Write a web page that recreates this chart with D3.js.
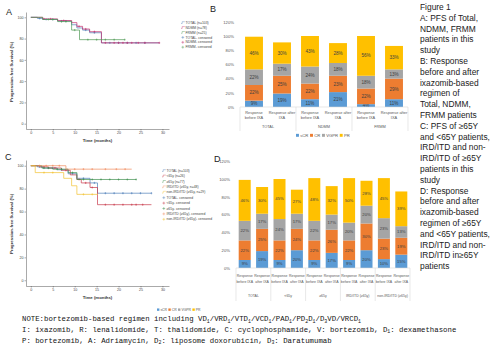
<!DOCTYPE html>
<html>
<head>
<meta charset="utf-8">
<script src="https://cdn.jsdelivr.net/npm/d3@7"></script>
<style>
  body { margin: 0; background: #fff; }
  svg { display: block; }
</style>
</head>
<body>
<div id="container"></div>
<script>
let w = 500;
let h = 353;

// ---------- DATA ----------
// KM axes
let kmTicksX = [0, 5, 10, 15, 20, 25, 30];
let kmTicksY = [0, 20, 40, 60, 80, 100];

// panel A: PFS of Total / NDMM / FRMM (time in months, survival in %)
let aTotalT = [0, 1.5, 2.7, 6.1, 9.3, 10.5, 11.8, 13.4, 16.1, 29.3];
let aTotalS = [100, 99, 98, 96.5, 93, 90, 88, 85.5, 76, 76];
let aTotalCens = [2, 3.5, 5, 7, 8, 12.5, 14.5, 18, 20, 22, 24, 26];
let aNdmmT = [0, 2.7, 6.1, 9.3, 10.5, 11.8, 13.4, 16.1, 29.3];
let aNdmmS = [100, 98.5, 97, 95, 91.5, 89, 86.5, 76, 76];
let aNdmmCens = [3, 4.5, 7.5, 11, 12.5, 14.5, 17, 19, 20, 21, 22, 23, 24.5, 26, 29.3];
let aFrmmT = [0, 2.7, 6.1, 9.3, 11.1, 21.4];
let aFrmmS = [100, 98, 96, 88, 79, 79];
let aFrmmCens = [4, 5, 7, 8, 10, 13, 15, 17, 19, 21.4];
let aLegend = ["TOTAL (n=103)", "NDMM (n=78)", "FRMM (n=25)", "TOTAL- censored", "NDMM- censored", "FRMM- censored"];

// panel C: PFS by age / regimen
let cTotalT = [0, 1.5, 2.7, 6, 8.5, 10.5, 13.5, 15.2, 27.5];
let cTotalS = [100, 99, 98, 96.5, 93, 89, 85, 76, 76];
let cTotalCens = [2, 4, 5, 7, 9.5, 12, 14.5, 17, 19, 21, 23, 25, 27.5];
let cYoungT = [0, 2, 4, 7, 9, 10.5, 11.5, 13.5, 15.2, 27.5];
let cYoungS = [100, 99, 98, 96, 92, 88, 85, 81, 66, 66];
let cYoungCens = [3, 5.5, 8, 11, 12.5, 14, 17, 19, 21, 23, 24, 25.5];
let cOldT = [0, 2.5, 5, 8.5, 10.5, 24];
let cOldS = [100, 98, 97, 94, 88, 88];
let cOldCens = [3, 4, 6, 7, 9.5, 12, 14, 16, 18, 20, 22, 24];
let cIrdT = [0, 8, 23];
let cIrdS = [100, 97, 97];
let cIrdCens = [2, 3.5, 5, 6.5, 10, 12, 14, 17, 19.5, 21.5];
let cNonIrdT = [0, 1, 7.5, 9.3, 10.5, 15.3];
let cNonIrdS = [100, 94, 89, 82.5, 75, 75];
let cNonIrdCens = [3, 5, 12, 14];
let cLegend = ["TOTAL (n=103)", "<65y (n=26)", "\u226565y (n=77)", "IRD/ITD (\u226565y, n=48)", "non-IRD/ITD (\u226565y, n=29)",
  "TOTAL- censored", "<65y- censored", "\u226565y- censored", "IRD/ITD (\u226565y)- censored", "non-IRD/ITD (\u226565y)- censored"];

// response categories
let responseKeys = ["sCR", "CR", "VGPR", "PR"];
let yTicksPct = [0, 0.2, 0.4, 0.6, 0.8, 1.0, 1.2];

// panel B
let bGroups = ["TOTAL", "NDMM", "FRMM"];
let bPhases = [["Response", "before IXA"], ["Response after", "IXA"]];
let bSCR = [9, 19, 11, 21, 4, 11];
let bCR = [22, 25, 22, 23, 22, 29];
let bVGPR = [22, 17, 24, 18, 18, 13];
let bPR = [46, 30, 43, 28, 56, 33];

// panel D
let dGroups = ["TOTAL", "<65y", "\u226565y", "IRD/ITD (\u226565y)", "non-IRD/ITD (\u226565y)"];
let dPhases = [["Response", "before IXA"], ["Response", "after IXA"]];
let dSCR = [9, 19, 9, 20, 9, 17, 9, 20, 10, 15];
let dCR = [22, 25, 22, 24, 22, 26, 22, 30, 23, 19];
let dVGPR = [22, 17, 24, 17, 22, 17, 20, 20, 23, 13];
let dPR = [46, 30, 45, 27, 48, 32, 50, 28, 45, 39];

// caption
let captionLines = ["Figure 1", "A: PFS of Total,", "NDMM, FRMM", "patients in this", "study", "B: Response",
  "before and after", "ixazomib-based", "regimen of", "Total, NDMM,", "FRMM patients", "C: PFS of \u226565Y",
  "and <65Y patients,", "IRD/ITD and non-", "IRD/ITD of \u226565Y", "patients in this", "study", "D: Response",
  "before and after", "ixazomib-based", "regimen of \u226565Y", "and <65Y patients,", "IRD/ITD and non-",
  "IRD/ITD  in\u226565Y", "patients"];

// ---------- STYLE ----------
let kmColors = { total: "#4f7fb8", ndmm: "#c2306e", frmm: "#4f9a55", young: "#c93a4a", old: "#3f8f4f", ird: "#f08a5d", nonird: "#f2c230" };
let respColors = ["#5b9bd5", "#ed7d31", "#a5a5a5", "#ffc000"];

let viz = d3.select("#container")
  .append("svg")
  .attr("width", w)
  .attr("height", h)
  .style("font-family", "'Liberation Sans', Arial, sans-serif")
  ;

function panelLetter(letter, x, y) {
  viz.append("text")
    .attr("x", x)
    .attr("y", y)
    .attr("font-size", 9)
    .attr("fill", "#222")
    .text(letter)
    ;
}

// ---------- KM PANEL ----------
function survAt(times, survs, t) {
  let i = d3.bisectRight(times, t) - 1;
  return survs[Math.max(0, i)];
}

function drawKM(cfg) {
  let g = viz.append("g").attr("class", "km");
  let xScale = d3.scaleLinear().domain([-1.1, 31.5]).range(cfg.xRange);
  let yScale = d3.scaleLinear().domain([-5, 105]).range(cfg.yRange);

  let xAxis = d3.axisBottom(xScale).tickValues(kmTicksX).tickSize(1.5).tickSizeOuter(0);
  let yAxis = d3.axisLeft(yScale).tickValues(kmTicksY).tickSize(1.5).tickSizeOuter(0);

  let xg = g.append("g").attr("transform", "translate(0," + cfg.yRange[0] + ")").call(xAxis);
  let yg = g.append("g").attr("transform", "translate(" + cfg.xRange[0] + ",0)").call(yAxis);
  [xg, yg].forEach(function (a) {
    a.selectAll("path, line").attr("stroke", "#555").attr("stroke-width", 0.5);
    a.selectAll("text").attr("font-size", 3.6).attr("fill", "#444");
  });
  xg.selectAll("text").attr("dy", "0.5em").attr("y", 3);
  yg.selectAll("text").attr("x", -2.5);

  g.append("text")
    .attr("x", (cfg.xRange[0] + cfg.xRange[1]) / 2)
    .attr("y", cfg.yRange[0] + 13)
    .attr("text-anchor", "middle")
    .attr("font-size", 4.3)
    .attr("font-weight", "bold")
    .attr("fill", "#333")
    .text("Time (months)")
    ;
  g.append("text")
    .attr("transform", "translate(" + 13 + "," + cfg.yMid + ") rotate(-90)")
    .attr("text-anchor", "middle")
    .attr("font-size", 4.3)
    .attr("font-weight", "bold")
    .attr("fill", "#333")
    .text("Progression-free Survival (%)")
    ;

  let stepLine = d3.line()
    .x(function (d) { return xScale(d[0]); })
    .y(function (d) { return yScale(d[1]); })
    .curve(d3.curveStepAfter)
    ;

  cfg.series.forEach(function (s) {
    g.append("path")
      .attr("d", stepLine(d3.zip(s.t, s.s)))
      .attr("fill", "none")
      .attr("stroke", s.color)
      .attr("stroke-width", 0.7)
      ;
    g.selectAll(null).data(s.cens).enter()
      .append("path")
      .attr("d", function (t) {
        let cx = xScale(t);
        let cy = yScale(survAt(s.t, s.s, t));
        return "M" + (cx - 0.9) + "," + cy + "h1.8M" + cx + "," + (cy - 1.1) + "v2.2";
      })
      .attr("stroke", s.color)
      .attr("stroke-width", 0.5)
      ;
  });

  // legend
  let n = cfg.series.length;
  let lg = g.append("g").attr("transform", "translate(" + cfg.legendX + "," + cfg.legendY + ")");
  cfg.legend.forEach(function (label, i) {
    let s = cfg.series[i % n];
    let yy = i * cfg.legendStep;
    if (i < n) {
      lg.append("path")
        .attr("d", "M0," + (yy + 0.8) + "h1.2v-1.8h2.6")
        .attr("fill", "none")
        .attr("stroke", s.color)
        .attr("stroke-width", 0.4)
        ;
    } else {
      lg.append("path")
        .attr("d", "M0.4," + yy + "h2.8M1.8," + (yy - 1.4) + "v2.8")
        .attr("stroke", s.color)
        .attr("stroke-width", 0.45)
        ;
    }
    lg.append("text")
      .attr("x", 4.5)
      .attr("y", yy + 1.2)
      .attr("font-size", 3.4)
      .attr("fill", "#444")
      .text(label)
      ;
  });
}

drawKM({
  xRange: [26, 169], yRange: [129, 12], yMid: 72,
  legendX: 181, legendY: 22.7, legendStep: 4.9, legend: aLegend,
  series: [
    { t: aTotalT, s: aTotalS, cens: aTotalCens, color: kmColors.total },
    { t: aNdmmT, s: aNdmmS, cens: aNdmmCens, color: kmColors.ndmm },
    { t: aFrmmT, s: aFrmmS, cens: aFrmmCens, color: kmColors.frmm }
  ]
});

drawKM({
  xRange: [26, 169], yRange: [286, 160], yMid: 224,
  legendX: 162, legendY: 170.7, legendStep: 5.4, legend: cLegend,
  series: [
    { t: cTotalT, s: cTotalS, cens: cTotalCens, color: kmColors.total },
    { t: cYoungT, s: cYoungS, cens: cYoungCens, color: kmColors.young },
    { t: cOldT, s: cOldS, cens: cOldCens, color: kmColors.old },
    { t: cIrdT, s: cIrdS, cens: cIrdCens, color: kmColors.ird },
    { t: cNonIrdT, s: cNonIrdS, cens: cNonIrdCens, color: kmColors.nonird }
  ]
});

// ---------- STACKED BAR PANEL ----------
function drawBars(cfg) {
  let g = viz.append("g").attr("class", "bars");
  let rows = cfg.values[0].map(function (v, i) {
    let row = { idx: i, group: cfg.groups[Math.floor(i / 2)], phase: i % 2 };
    responseKeys.forEach(function (k, j) { row[k] = cfg.values[j][i] / 100; });
    return row;
  });

  let groupScale = d3.scaleBand().domain(cfg.groups).range(cfg.xRange);
  let phaseScale = d3.scaleBand().domain([0, 1]).range([0, groupScale.bandwidth()])
    .paddingInner(cfg.pad).paddingOuter(cfg.pad / 2);
  let yScale = d3.scaleLinear().domain([0, 1.2]).range(cfg.yRange);

  let yAxis = d3.axisLeft(yScale).tickValues(yTicksPct).tickFormat(d3.format(".0%")).tickSize(0);
  let yg = g.append("g").attr("transform", "translate(" + (cfg.xRange[0] - 3) + ",0)").call(yAxis);
  yg.select(".domain").remove();
  yg.selectAll("text").attr("font-size", cfg.tickFont).attr("fill", "#595959");

  let stacked = d3.stack().keys(responseKeys)(rows);

  let layers = g.selectAll(".layer").data(stacked).enter()
    .append("g")
    .attr("class", "layer")
    .attr("fill", function (d, i) { return respColors[i]; })
    ;

  function barX(d) {
    return groupScale(d.data.group) + phaseScale(d.data.phase);
  }

  layers.selectAll("rect").data(function (d) { return d; }).enter()
    .append("rect")
    .attr("x", barX)
    .attr("y", function (d) { return yScale(d[1]); })
    .attr("width", phaseScale.bandwidth())
    .attr("height", function (d) { return yScale(d[0]) - yScale(d[1]); })
    ;

  layers.selectAll("text").data(function (d) { return d; }).enter()
    .append("text")
    .attr("x", function (d) { return barX(d) + phaseScale.bandwidth() / 2; })
    .attr("y", function (d) { return (yScale(d[0]) + yScale(d[1])) / 2; })
    .attr("dy", "0.35em")
    .attr("text-anchor", "middle")
    .attr("font-size", cfg.labelFont)
    .attr("fill", "#404040")
    .text(function (d) { return Math.round((d[1] - d[0]) * 100) + "%"; })
    ;

  // category axis
  let base = cfg.yRange[0];
  g.append("line")
    .attr("x1", cfg.xRange[0]).attr("x2", cfg.xRange[1])
    .attr("y1", base).attr("y2", base)
    .attr("stroke", "#d9d9d9").attr("stroke-width", 0.6)
    ;
  let bounds = cfg.groups.map(function (grp) { return groupScale(grp); }).concat([cfg.xRange[1]]);
  g.selectAll(null).data(bounds).enter()
    .append("line")
    .attr("x1", function (d) { return d; }).attr("x2", function (d) { return d; })
    .attr("y1", base).attr("y2", base + cfg.divLen)
    .attr("stroke", "#d9d9d9").attr("stroke-width", 0.6)
    ;

  rows.forEach(function (r) {
    let cx = groupScale(r.group) + phaseScale(r.phase) + phaseScale.bandwidth() / 2;
    cfg.phases[r.phase].forEach(function (line, k) {
      g.append("text")
        .attr("x", cx)
        .attr("y", base + cfg.catY + k * cfg.catStep)
        .attr("text-anchor", "middle")
        .attr("font-size", cfg.catFont)
        .attr("fill", "#595959")
        .text(line)
        ;
    });
  });
  cfg.groups.forEach(function (grp) {
    g.append("text")
      .attr("x", groupScale(grp) + groupScale.bandwidth() / 2)
      .attr("y", base + cfg.groupY)
      .attr("text-anchor", "middle")
      .attr("font-size", cfg.catFont)
      .attr("fill", "#595959")
      .text(grp)
      ;
  });

  // legend
  let lg = g.append("g").attr("transform", "translate(" + cfg.legendX + "," + cfg.legendY + ")");
  let lx = 0;
  responseKeys.forEach(function (k, i) {
    lg.append("rect")
      .attr("x", lx).attr("y", -cfg.legendFont * 0.75)
      .attr("width", cfg.legendFont * 0.7).attr("height", cfg.legendFont * 0.7)
      .attr("fill", respColors[i])
      ;
    let t = lg.append("text")
      .attr("x", lx + cfg.legendFont)
      .attr("y", 0)
      .attr("font-size", cfg.legendFont)
      .attr("fill", "#595959")
      .text(k)
      ;
    lx += cfg.legendFont * 1.4 + t.node().getComputedTextLength();
  });
}

drawBars({
  groups: bGroups, phases: bPhases, values: [bSCR, bCR, bVGPR, bPR],
  xRange: [240, 408], yRange: [107, 21.8], pad: 0.36,
  tickFont: 4.2, labelFont: 4.6, catFont: 3.9,
  catY: 6.5, catStep: 5, groupY: 21, divLen: 24,
  legendX: 296, legendY: 137, legendFont: 4.2
});

drawBars({
  groups: dGroups, phases: dPhases, values: [dSCR, dCR, dVGPR, dPR],
  xRange: [236, 410], yRange: [268, 161.2], pad: 0.31,
  tickFont: 4.2, labelFont: 4.2, catFont: 3.5,
  catY: 9, catStep: 5.5, groupY: 29, divLen: 33,
  legendX: 157, legendY: 311, legendFont: 3.4
});

panelLetter("A", 6, 15);
panelLetter("B", 210, 12);
panelLetter("C", 5, 160);
panelLetter("D", 214, 162);

// ---------- CAPTION ----------
let caption = viz.append("g").attr("class", "caption");
caption.selectAll("text").data(captionLines).enter()
  .append("text")
  .attr("x", 420)
  .attr("y", function (d, i) { return 10 + i * 10.8; })
  .attr("font-size", 8.4)
  .attr("fill", "#222")
  .text(function (d) { return d; })
  ;

// ---------- NOTE ----------
// each line: list of [text, isSubscript]
let noteLines = [
  [["NOTE:bortezomib-based regimen including VD", 0], ["1", 1], ["/VRD", 0], ["1", 1], ["/VTD", 0], ["1", 1], ["/VCD", 0], ["1", 1],
   ["/PAD", 0], ["1", 1], ["/PD", 0], ["2", 1], ["D", 0], ["1", 1], ["/D", 0], ["3", 1], ["VD/VRCD", 0], ["1", 1]],
  [["I: ixazomib, R: lenalidomide, T: thalidomide, C: cyclophosphamide, V: bortezomib, D", 0], ["1", 1], [": dexamethasone", 0]],
  [["P: bortezomib, A: Adriamycin, D", 0], ["2", 1], [": liposome doxorubicin, D", 0], ["3", 1], [": Daratumumab", 0]]
];
let noteX = 22;
let noteWidth = 435; // width of the longest line in the picture

let noteTexts = noteLines.map(function (parts, i) {
  let t = viz.append("text")
    .attr("x", 0)
    .attr("y", 0)
    .attr("font-family", "'Liberation Mono', 'DejaVu Sans Mono', monospace")
    .attr("font-size", 7.8)
    .attr("fill", "#111")
    ;
  parts.forEach(function (p, k) {
    let span = t.append("tspan").text(p[0]);
    if (p[1]) {
      span.attr("font-size", 5.2).attr("dy", 1.6);
    } else if (k > 0 && parts[k - 1][1]) {
      span.attr("dy", -1.6);
    }
  });
  return t;
});

let longest = d3.max(noteTexts, function (t) { return t.node().getComputedTextLength(); });
let squeeze = noteWidth / longest;
noteTexts.forEach(function (t, i) {
  t.attr("transform", "translate(" + noteX + "," + (321 + i * 10.8) + ") scale(" + squeeze + ",1)");
});
</script>
</body>
</html>
